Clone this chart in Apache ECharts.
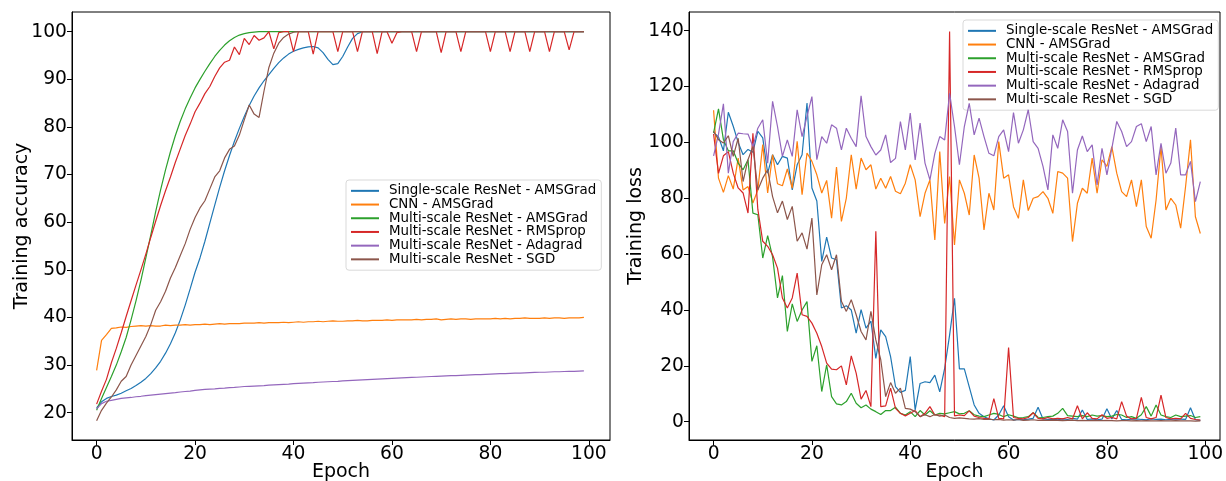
<!DOCTYPE html>
<html>
<head>
<meta charset="utf-8">
<script src="https://cdn.jsdelivr.net/npm/echarts@6/dist/echarts.min.js"></script>
<style>
html,body{margin:0;padding:0;background:#fff;}
#chart{width:1226px;height:481px;}
</style>
</head>
<body>
<div id="chart"></div>
<script>
// ---------- data ----------
const seriesNames = [
  'Single-scale ResNet - AMSGrad',
  'CNN - AMSGrad',
  'Multi-scale ResNet - AMSGrad',
  'Multi-scale ResNet - RMSprop',
  'Multi-scale ResNet - Adagrad',
  'Multi-scale ResNet - SGD'
];
const xTickValues = [0, 20, 40, 60, 80, 100];
const accTickValues = [20, 30, 40, 50, 60, 70, 80, 90, 100];
const lossTickValues = [0, 20, 40, 60, 80, 100, 120, 140];

// Training accuracy (left), epochs 0..99
const accSingleAMSGrad = [21.0,22.3,23.0,23.4,23.7,24.1,24.6,25.1,25.7,26.4,
  27.2,28.2,29.4,30.8,32.5,34.5,36.8,39.5,42.6,46.0,
  49.5,52.5,56.0,59.8,63.6,67.3,70.8,74.0,77.0,79.7,
  82.2,84.5,86.5,88.2,89.7,91.0,92.3,93.5,94.5,95.3,
  95.9,96.3,96.6,96.8,96.9,96.6,95.6,94.2,93.1,93.3,
  94.8,96.8,98.6,99.6,100,100,100,100,100,100,
  100,100,100,100,100,100,100,100,100,100,
  100,100,100,100,100,100,100,100,100,100,
  100,100,100,100,100,100,100,100,100,100,
  100,100,100,100,100,100,100,100,100,100];
const accCNN = [28.9,35.2,36.4,37.7,37.8,38.0,37.9,38.1,38.2,38.3,
  38.2,38.3,38.2,38.2,38.4,38.3,38.4,38.4,38.5,38.4,
  38.5,38.5,38.6,38.5,38.6,38.7,38.6,38.7,38.7,38.7,
  38.8,38.8,38.8,38.9,38.8,38.9,38.9,38.9,39.0,38.9,
  39.0,39.1,39.0,39.1,39.1,39.2,39.1,39.2,39.3,39.2,
  39.2,39.3,39.3,39.4,39.3,39.3,39.4,39.4,39.4,39.5,
  39.4,39.5,39.5,39.5,39.5,39.6,39.5,39.6,39.6,39.7,
  39.5,39.6,39.7,39.6,39.7,39.7,39.6,39.7,39.7,39.7,
  39.7,39.8,39.7,39.8,39.7,39.8,39.8,39.9,39.8,39.8,
  39.8,39.9,39.8,39.9,39.9,39.8,39.9,39.9,39.9,40.0];
const accMultiAMSGrad = [20.5,23.0,25.3,27.6,30.0,32.8,35.8,39.5,43.5,47.8,
  52.5,57.3,62.2,66.8,71.0,74.8,78.2,81.2,83.8,86.1,
  88.2,90.0,91.7,93.3,94.8,96.1,97.2,98.1,98.8,99.3,
  99.6,99.8,99.9,100,100,100,100,100,100,100,
  100,100,100,100,100,100,100,100,100,100,
  100,100,100,100,100,100,100,100,100,100,
  100,100,100,100,100,100,100,100,100,100,
  100,100,100,100,100,100,100,100,100,100,
  100,100,100,100,100,100,100,100,100,100,
  100,100,100,100,100,100,100,100,100,100];
const accMultiRMSprop = [21.8,24.5,27.0,30.5,33.5,36.8,40.2,43.5,46.8,50.0,
  53.3,56.8,60.2,63.5,66.6,69.5,72.6,75.4,78.2,80.6,
  83.2,85.0,87.0,88.5,90.6,92.4,93.6,94.0,96.8,95.2,
  98.6,97.3,99.2,98.2,98.7,100,96.4,99.8,100,100,
  95.8,100,100,100,95.3,100,100,100,100,95.8,
  100,100,100,95.8,100,100,100,95.4,100,100,
  97.6,99.8,100,100,100,95.8,100,100,100,100,
  95.6,100,100,100,95.8,100,100,100,100,100,
  95.8,100,100,100,95.8,100,100,100,95.8,100,
  100,100,95.8,100,100,100,96.2,100,100,100];
const accMultiAdagrad = [20.8,21.9,22.4,22.6,22.8,23.0,23.1,23.2,23.35,23.45,
  23.6,23.7,23.8,23.9,24.0,24.1,24.2,24.35,24.45,24.55,
  24.7,24.8,24.9,24.95,25.0,25.1,25.15,25.25,25.3,25.4,
  25.5,25.55,25.6,25.65,25.7,25.8,25.85,25.9,25.95,26.0,
  26.1,26.15,26.2,26.25,26.3,26.4,26.45,26.5,26.55,26.6,
  26.7,26.75,26.8,26.85,26.9,26.95,27.0,27.05,27.1,27.15,
  27.2,27.25,27.3,27.35,27.4,27.45,27.5,27.55,27.6,27.65,
  27.7,27.75,27.8,27.8,27.85,27.9,27.95,28.0,28.0,28.05,
  28.1,28.15,28.2,28.2,28.25,28.3,28.3,28.35,28.4,28.45,
  28.5,28.5,28.55,28.6,28.6,28.65,28.7,28.7,28.75,28.8];
const accMultiSGD = [18.3,20.5,22.0,23.3,24.8,26.6,27.6,30.0,32.0,34.0,
  36.0,38.5,41.5,43.3,45.5,48.3,50.5,53.0,55.5,58.5,
  61.0,63.0,64.5,67.0,69.5,70.8,73.5,75.3,76.0,78.3,
  81.5,84.6,82.7,82.0,87.5,92.5,95.5,97.6,98.8,99.5,
  99.9,100,100,100,100,100,100,100,100,100,
  100,100,100,100,100,100,100,100,100,100,
  100,100,100,100,100,100,100,100,100,100,
  100,100,100,100,100,100,100,100,100,100,
  100,100,100,100,100,100,100,100,100,100,
  100,100,100,100,100,100,100,100,100,100];

// Training loss (right), epochs 0..99
const lossSingleAMSGrad = [103.6,102,97,110.8,105.8,100,95.6,97.5,96.5,104,
  101.6,89,95.6,92,95,94.4,83,92,95.6,114.1,
  83.7,79,57.4,66.1,58.6,58,40.7,41.5,40,31.7,
  40.1,33.5,36,22.7,32.9,30.5,23.3,12.6,10.5,11.2,
  23.3,4.2,13.7,14.3,14,16.7,10.7,19.1,31,44.2,
  18.9,18.9,12.5,6,3,1.8,1,0.6,2.4,5.7,
  1.8,0.6,0.8,0.7,0.9,1.2,5.2,1,0.8,0.9,
  0.7,1,0.8,1.2,0.9,4.2,0.8,1,0.7,0.9,
  4.6,1,4,0.8,0.7,0.9,1,0.8,0.7,1,
  0.8,0.9,0.7,0.8,1,0.9,0.8,5,0.7,0.5];
const lossCNN = [111.5,87.2,82.1,88.1,83.3,94.4,83,84.2,78.3,83,
  99.2,81.9,95.6,85.2,84.5,90.5,83.6,100.4,81.3,96.2,
  93.2,88.4,81.9,86.4,72.9,91.2,71.7,80.1,95.6,83.3,
  94.4,90.2,92,83.3,87.2,83.6,87.8,82.5,81.6,85.4,
  92,86.6,73.4,81.8,86.6,65.1,96.7,71,87.8,63.3,
  86.6,81.8,74,95.5,87.2,68.7,81.8,75.8,100.3,87.2,
  88.4,77,72.8,86.6,75.6,80,80.6,82.4,80,74.6,
  89.6,89,87.2,64.5,78.2,83.6,81.8,94.4,81.8,93.8,
  91.4,98.5,89,82.4,80.6,86.6,77,86.6,69.9,65.7,
  79.4,98.5,75.8,80,77.6,69.3,84.2,100.9,73.4,67.4];
const lossMultiAMSGrad = [103.4,112,101,97,97,92.6,90.2,93.8,74.7,74.1,
  58.6,66.6,59,44.3,52.3,32.3,42.2,35.9,40,43,
  21.6,27.2,10.8,20.4,9,6.4,6,7.2,10.2,6.6,
  5,6,4.5,3.6,2.6,4,4,5.2,3,2.4,
  3.6,1.8,4,2.4,3.9,2.4,3,2.8,3.2,3.6,
  2.8,3,3.9,2.5,2,1.8,2.4,3,2.6,1.8,
  2.5,2,1.4,1.5,1.8,3.2,1.6,1.5,1.8,2,
  3,4.8,2.2,2,1.8,2.2,1.8,2.4,2,2.2,
  1.8,2,2.6,2.4,1.5,1.8,1.2,2.5,5.4,2,
  6,2.4,1.8,1.5,2.4,1.8,2,2.2,1.5,1.8];
const lossMultiRMSprop = [103,88.9,95.2,96.7,89,83.7,81.9,74.7,103.3,76,
  64.6,62.8,59.8,55,44.3,40.7,44.3,53.2,38.3,37.7,
  35.3,31.7,26.9,21,18.8,18.6,20,13.2,23.6,17.4,
  8.1,11.2,5.4,68.2,5.4,5.7,12,4.8,3,2.1,
  3,4,1.8,3,5.4,2.4,2.4,1.8,139.7,2.1,
  2.4,2.2,3.9,2,1.5,1.2,1,8.3,1.2,1,
  26.6,1.5,1.2,1,1.5,3.2,1.2,1,1.5,1,
  1.2,1,1.5,1,5.7,1,3.2,1.2,1,2.5,
  1.2,1.5,1,7.2,2,1,1.2,8.7,1.5,1,
  1.5,9.5,1.5,1,1.2,1,3,1.2,0.8,0.6];
const lossMultiAdagrad = [95.2,103,113.8,89,100.3,103.3,103.1,103,98.5,105.1,
  108.1,92.6,114.7,105.7,95,100.9,95,111.7,102.1,109.3,
  116.4,93.8,102.1,99.7,106.3,105.1,97.3,105.1,101.5,98.5,
  116.7,102.1,98.5,95.5,97.3,102.7,92.8,94.3,107.5,97.3,
  110.5,93.7,106.9,92.6,86.6,96.1,102.1,100.9,117.6,105.7,
  92,105.7,114,102.7,108.7,102.1,96.1,95.2,102.1,104.5,
  96.7,110.7,99.7,104.5,111.7,100.3,97.9,91.4,83,102.7,
  97.9,108.1,103.9,81.8,97.3,102.3,96.7,99.1,84.8,97.9,
  88.4,97.9,107.5,103.9,98.5,100.3,105.7,106.7,100.3,105.7,
  88.4,99.7,89,92.6,105.1,88.4,88.4,93.2,78.8,86];
const lossMultiSGD = [104,101,99.8,102.4,95,101.5,86,93.8,98.5,83,
  87.2,90.2,80.6,74.8,79,72.4,77.1,64.6,67.6,61.8,
  72.9,45.4,56.2,59.8,54.4,59.8,43.1,39.5,43.7,38.3,
  32.3,29.3,39.5,29.3,22.2,9,14,10.2,12,4.8,
  4.5,3.6,1.8,2.5,1.8,2.6,2,2.4,1.5,1.2,
  1.4,1.2,1,0.9,1.1,0.8,0.9,0.7,0.8,0.6,
  0.7,0.6,0.8,0.5,0.6,0.7,0.5,0.6,0.5,0.6,
  0.5,0.4,0.5,0.6,0.4,0.5,0.4,0.5,0.4,0.4,
  0.5,0.4,0.3,0.4,0.4,0.3,0.4,0.3,0.4,0.3,
  0.3,0.4,0.3,0.3,0.4,0.3,0.3,0.3,0.2,0.3];

const colors = ['#1f77b4', '#ff7f0e', '#2ca02c', '#d62728', '#9467bd', '#8c564b'];
const accSets = [accSingleAMSGrad, accCNN, accMultiAMSGrad, accMultiRMSprop, accMultiAdagrad, accMultiSGD];
const lossSets = [lossSingleAMSGrad, lossCNN, lossMultiAMSGrad, lossMultiRMSprop, lossMultiAdagrad, lossMultiSGD];

// ---------- chart ----------
const FONT = 'DejaVu Sans';
const toPairs = arr => arr.map((v, i) => [i, v]);

function xAxisCfg(gridIndex, max) {
  return {
    type: 'value', gridIndex, min: -5, max,
    name: 'Epoch', nameLocation: 'middle', nameGap: 23, nameMoveOverlap: false,
    nameTextStyle: { fontFamily: FONT, fontSize: 19, color: '#000' },
    axisLine: { show: true, onZero: false, lineStyle: { color: '#000', width: 1 } },
    axisTick: { show: true, customValues: xTickValues, length: 5, lineStyle: { color: '#000', width: 1 } },
    axisLabel: { show: true, customValues: xTickValues, fontFamily: FONT, fontSize: 18.7, color: '#000', margin: 5 },
    splitLine: { show: false }
  };
}
function yAxisCfg(gridIndex, min, max, ticks, name, gap) {
  return {
    type: 'value', gridIndex, min, max,
    name, nameLocation: 'middle', nameGap: gap, nameMoveOverlap: false,
    nameTextStyle: { fontFamily: FONT, fontSize: 19, color: '#000' },
    axisLine: { show: true, onZero: false, lineStyle: { color: '#000', width: 1 } },
    axisTick: { show: true, customValues: ticks, length: 5, lineStyle: { color: '#000', width: 1 } },
    axisLabel: { show: true, customValues: ticks, fontFamily: FONT, fontSize: 18.7, color: '#000', margin: 5 },
    splitLine: { show: false }
  };
}
function legendCfg(left, top) {
  return {
    show: true, orient: 'vertical', left, top,
    itemWidth: 28, itemHeight: 2, itemGap: 0,
    padding: [4, 5, 4, 5],
    backgroundColor: 'rgba(255,255,255,0.8)',
    borderColor: '#d9d9d9', borderWidth: 1, borderRadius: 3,
    textStyle: { fontFamily: FONT, fontSize: 13.4, color: '#000', lineHeight: 13.7, padding: [0, 0, 0, 5] },
    data: seriesNames.map(n => ({ name: n, icon: 'rect' })),
    selectedMode: false
  };
}

const series = [];
seriesNames.forEach((name, k) => {
  series.push({
    name, type: 'line', xAxisIndex: 0, yAxisIndex: 0,
    data: toPairs(accSets[k]), symbol: 'none', showSymbol: false,
    lineStyle: { color: colors[k], width: 1.2 }, itemStyle: { color: colors[k] },
    z: 2 + k
  });
});
seriesNames.forEach((name, k) => {
  series.push({
    name, type: 'line', xAxisIndex: 1, yAxisIndex: 1,
    data: toPairs(lossSets[k]), symbol: 'none', showSymbol: false,
    lineStyle: { color: colors[k], width: 1.2 }, itemStyle: { color: colors[k] },
    z: 2 + k
  });
});

const gridBase = { top: 12, height: 428, show: true, borderColor: '#000', borderWidth: 1,
  backgroundColor: 'transparent', containLabel: false, outerBoundsMode: 'none' };

const option = {
  animation: false,
  backgroundColor: '#fff',
  textStyle: { fontFamily: FONT },
  grid: [
    Object.assign({}, gridBase, { left: 72, width: 538 }),
    Object.assign({}, gridBase, { left: 689, width: 531 })
  ],
  xAxis: [xAxisCfg(0, 104.3), xAxisCfg(1, 103)],
  yAxis: [
    yAxisCfg(0, 14.27, 104.14, accTickValues, 'Training accuracy', 40),
    yAxisCfg(1, -6.55, 146.7, lossTickValues, 'Training loss', 43)
  ],
  legend: [legendCfg(346, 180), legendCfg(963, 20)],
  series
};

const chart = echarts.init(document.getElementById('chart'), null, { renderer: 'canvas' });
chart.setOption(option);
</script>
</body>
</html>
